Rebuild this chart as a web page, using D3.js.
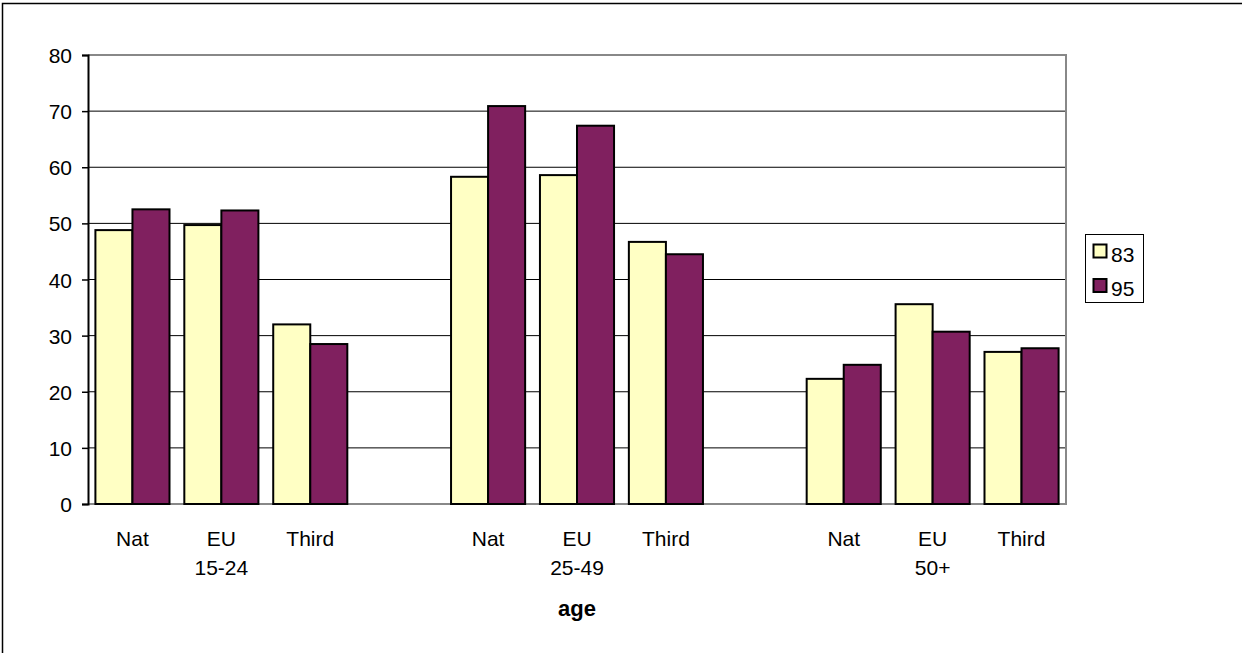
<!DOCTYPE html>
<html>
<head>
<meta charset="utf-8">
<script src="https://cdn.jsdelivr.net/npm/d3@7"></script>
<style>
  html, body { margin: 0; padding: 0; background: #fff; }
  svg { display: block; font-family: "Liberation Sans", Arial, sans-serif; }
</style>
</head>
<body>
<svg id="chart" width="1242" height="653"></svg>
<script>
// ---- data ----
const ageGroups = ["15-24", "25-49", "50+"];
const origins = ["Nat", "EU", "Third"];
const seriesNames = ["83", "95"];
const values83 = [48.8, 49.7, 32.0, 58.3, 58.6, 46.7, 22.3, 35.6, 27.1];
const values95 = [52.5, 52.3, 28.5, 70.9, 67.4, 44.5, 24.8, 30.7, 27.75];
const yTicks = [0, 10, 20, 30, 40, 50, 60, 70, 80];
const axisTitle = "age";
const colors = { "83": "#FFFFC4", "95": "#80205F" };

// ---- layout ----
const svg = d3.select("#chart");
const plotLeft = 88, plotRight = 1066, plotTop = 55, plotBottom = 504;
const fontSize = 21;

// outer border
svg.append("rect").attr("x", 2.5).attr("y", 3.5).attr("width", 1250).attr("height", 670)
  .attr("fill", "none").attr("stroke", "#000").attr("stroke-width", 1.5);

// categories with blank spacers between age groups
const catKeys = [];
const rows = [];
ageGroups.forEach((g, gi) => {
  origins.forEach((o, oi) => {
    const key = g + "|" + o;
    catKeys.push(key);
    const idx = gi * origins.length + oi;
    rows.push({ key, group: g, origin: o, "83": values83[idx], "95": values95[idx] });
  });
  if (gi < ageGroups.length - 1) catKeys.push("gap" + gi);
});

const x = d3.scaleBand().domain(catKeys).range([plotLeft, plotRight]).paddingInner(0).paddingOuter(0);
const xs = d3.scaleBand().domain(seriesNames).range([0, x.bandwidth()]).paddingInner(0).paddingOuter(0.2);
const y = d3.scaleLinear().domain([0, 80]).range([plotBottom, plotTop]);

// gridlines
svg.append("g").selectAll("line").data(yTicks.filter(t => t > 0)).join("line")
  .attr("x1", plotLeft).attr("x2", plotRight)
  .attr("y1", d => y(d)).attr("y2", d => y(d))
  .attr("stroke", "#000").attr("stroke-width", 1);

// plot frame (gray right/top/bottom)
svg.append("path")
  .attr("d", `M${plotLeft},${plotTop}H${plotRight}V${plotBottom}H${plotLeft}`)
  .attr("fill", "none").attr("stroke", "#888").attr("stroke-width", 2);

// bars
const groups = svg.append("g").selectAll("g").data(rows).join("g")
  .attr("transform", d => `translate(${x(d.key)},0)`);
groups.selectAll("rect").data(d => seriesNames.map(s => ({ s, v: d[s] }))).join("rect")
  .attr("x", d => xs(d.s))
  .attr("y", d => y(d.v))
  .attr("width", xs.bandwidth())
  .attr("height", d => y(0) - y(d.v))
  .attr("fill", d => colors[d.s])
  .attr("stroke", "#000").attr("stroke-width", 2);

// y axis
const yAxis = d3.axisLeft(y).tickValues(yTicks).tickSize(6).tickPadding(10);
const gy = svg.append("g").attr("transform", `translate(${plotLeft},0)`).call(yAxis);
gy.select(".domain").attr("stroke", "#000").attr("stroke-width", 2);
gy.selectAll(".tick line").attr("stroke", "#000").attr("stroke-width", 1.5);
gy.selectAll(".tick text").attr("font-size", fontSize).attr("font-family", "Liberation Sans, Arial, sans-serif")
  .attr("fill", "#000").attr("dy", "0.36em");

// x category labels
svg.append("g").selectAll("text").data(rows).join("text")
  .attr("x", d => x(d.key) + x.bandwidth() / 2)
  .attr("y", 546)
  .attr("text-anchor", "middle")
  .attr("font-size", fontSize).attr("fill", "#000")
  .text(d => d.origin);

// age group labels (under middle category)
svg.append("g").selectAll("text").data(ageGroups).join("text")
  .attr("x", g => x(g + "|" + origins[1]) + x.bandwidth() / 2)
  .attr("y", 575)
  .attr("text-anchor", "middle")
  .attr("font-size", fontSize).attr("fill", "#000")
  .text(g => g);

// axis title
svg.append("text")
  .attr("x", x(ageGroups[1] + "|" + origins[1]) + x.bandwidth() / 2)
  .attr("y", 616)
  .attr("text-anchor", "middle")
  .attr("font-size", fontSize + 1).attr("font-weight", "bold").attr("fill", "#000")
  .text(axisTitle);

// legend
const lg = svg.append("g");
lg.append("rect").attr("x", 1085.5).attr("y", 234.5).attr("width", 58).attr("height", 68)
  .attr("fill", "#fff").attr("stroke", "#000").attr("stroke-width", 1);
const items = lg.selectAll("g").data(seriesNames).join("g")
  .attr("transform", (d, i) => `translate(1093,${244 + i * 34.5})`);
items.append("rect").attr("x", 0.5).attr("y", 0.5).attr("width", 13).attr("height", 13)
  .attr("fill", d => colors[d]).attr("stroke", "#000").attr("stroke-width", 2);
items.append("text").attr("x", 18).attr("y", 17.5)
  .attr("font-size", fontSize).attr("fill", "#000").text(d => d);
</script>
</body>
</html>
